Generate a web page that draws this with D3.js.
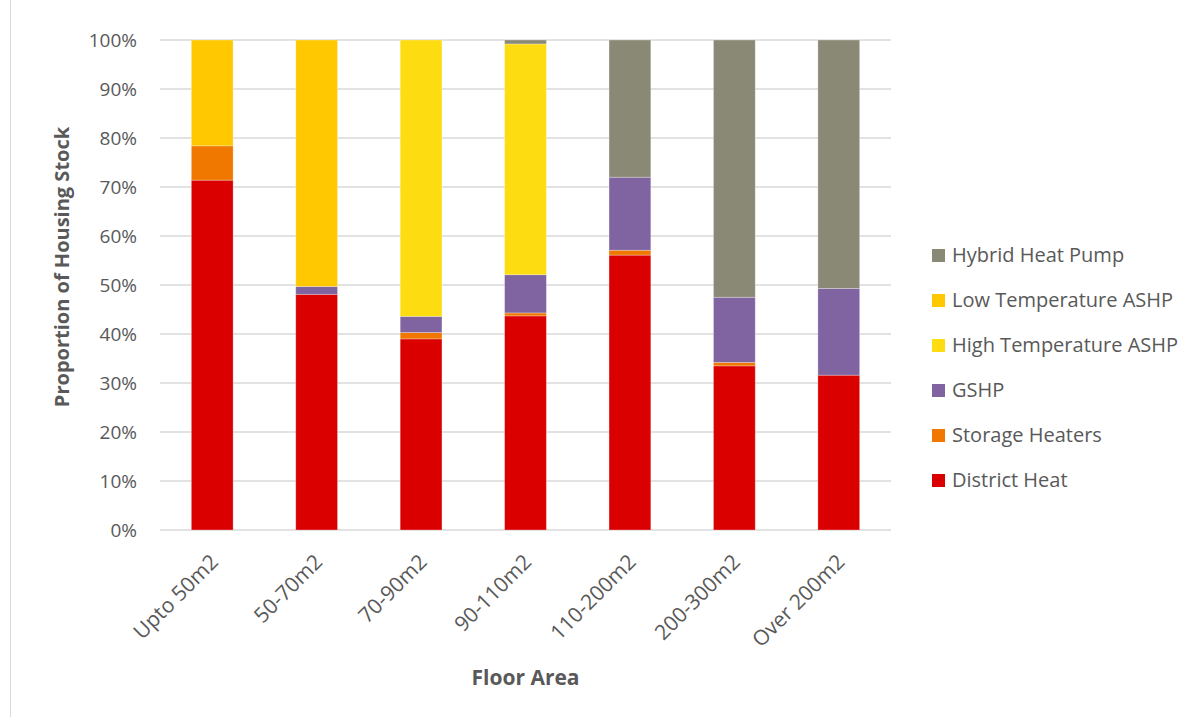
<!DOCTYPE html>
<html>
<head>
<meta charset="utf-8">
<script src="https://cdn.jsdelivr.net/npm/d3@7"></script>
<style>
  html, body { margin: 0; padding: 0; background: #fff; }
  svg { display: block; font-family: "Open Sans", "Liberation Sans", sans-serif; }
</style>
</head>
<body>
<svg id="chart" width="1200" height="717"></svg>
<script>
// ---- Data ----
const categories = ["Upto 50m2", "50-70m2", "70-90m2", "90-110m2", "110-200m2", "200-300m2", "Over 200m2"];
const seriesNames = ["District Heat", "Storage Heaters", "GSHP", "High Temperature ASHP", "Low Temperature ASHP", "Hybrid Heat Pump"];
const seriesColors = ["#DA0000", "#F07800", "#8064A2", "#FEDC12", "#FFC800", "#8A8975"];
const districtHeat = [71.4, 48.1, 39.0, 43.7, 56.1, 33.5, 31.6];
const storageHeaters = [7.0, 0.0, 1.3, 0.6, 1.0, 0.7, 0.0];
const gshp = [0.0, 1.6, 3.3, 7.8, 14.9, 13.3, 17.7];
const highTempASHP = [0.0, 0.0, 56.4, 47.1, 0.0, 0.0, 0.0];
const lowTempASHP = [21.6, 50.3, 0.0, 0.0, 0.0, 0.0, 0.0];
const hybridHeatPump = [0.0, 0.0, 0.0, 0.8, 28.0, 52.5, 50.7];
const yTicks = [0, 10, 20, 30, 40, 50, 60, 70, 80, 90, 100];

const seriesValues = [districtHeat, storageHeaters, gshp, highTempASHP, lowTempASHP, hybridHeatPump];
const rows = categories.map((c, i) => {
  const r = { category: c };
  seriesNames.forEach((s, k) => { r[s] = seriesValues[k][i]; });
  return r;
});

// ---- Layout ----
const svg = d3.select("#chart");
const margin = { left: 160, right: 309, top: 40, bottom: 187 };
const W = 1200, H = 717;
const x0 = margin.left, x1 = W - margin.right;
const y0 = H - margin.bottom, y1 = margin.top;
const FONT = "'Open Sans', 'Liberation Sans', sans-serif";

const x = d3.scaleBand().domain(categories).range([x0, x1]).paddingInner(0.6).paddingOuter(0.3);
const y = d3.scaleLinear().domain([0, 100]).range([y0, y1]);
const color = d3.scaleOrdinal().domain(seriesNames).range(seriesColors);

// outer chart frame (left edge visible)
svg.append("line").attr("x1", 10.5).attr("x2", 10.5).attr("y1", 0).attr("y2", H)
  .attr("stroke", "#d9d9d9").attr("stroke-width", 1);

// gridlines
svg.append("g").selectAll("line").data(yTicks).join("line")
  .attr("x1", x0).attr("x2", x1)
  .attr("y1", d => y(d)).attr("y2", d => y(d))
  .attr("stroke", "#d9d9d9").attr("stroke-width", 1.5);

// y axis labels
const yAxis = d3.axisLeft(y).tickValues(yTicks).tickFormat(d => d + "%").tickSize(0).tickPadding(0);
const yg = svg.append("g").attr("transform", `translate(${x0 - 23},0)`).call(yAxis);
yg.attr("font-family", FONT);
yg.select(".domain").remove();
yg.selectAll("text").attr("font-size", 19).attr("fill", "#595959");

// stacked bars
const stack = d3.stack().keys(seriesNames);
const stacked = stack(rows);
svg.append("g").selectAll("g").data(stacked).join("g")
  .attr("fill", d => color(d.key))
  .selectAll("rect").data(d => d.filter(p => p[1] - p[0] > 0)).join("rect")
  .attr("x", d => x(d.data.category))
  .attr("width", x.bandwidth())
  .attr("y", d => y(d[1]))
  .attr("height", d => y(d[0]) - y(d[1]))
  .attr("stroke", "#ffffff").attr("stroke-opacity", 0.35).attr("stroke-width", 0.8);

// x axis labels
const xAxis = d3.axisBottom(x).tickSize(0).tickPadding(0);
const xg = svg.append("g").attr("transform", `translate(0,${y0})`).call(xAxis);
xg.attr("font-family", FONT);
xg.select(".domain").remove();
xg.selectAll("text")
  .attr("font-size", 21).attr("fill", "#595959")
  .attr("text-anchor", "end")
  .attr("dy", "0.35em")
  .attr("transform", "translate(2,28) rotate(-45)");

// axis titles
svg.append("text")
  .attr("transform", `translate(69,${(y0 + y1) / 2 - 18}) rotate(-90)`)
  .attr("text-anchor", "middle")
  .attr("font-size", 20).attr("font-weight", "bold").attr("fill", "#595959")
  .text("Proportion of Housing Stock");
svg.append("text")
  .attr("x", (x0 + x1) / 2).attr("y", 685)
  .attr("text-anchor", "middle")
  .attr("font-size", 21).attr("font-weight", "bold").attr("fill", "#595959")
  .text("Floor Area");

// legend (reverse order, top = Hybrid)
const legendItems = seriesNames.slice().reverse();
const lg = svg.append("g").attr("transform", "translate(932,255)");
const li = lg.selectAll("g").data(legendItems).join("g")
  .attr("transform", (d, i) => `translate(0,${i * 45})`);
li.append("rect").attr("x", 0).attr("y", -6).attr("width", 13).attr("height", 13)
  .attr("fill", d => color(d));
li.append("text").attr("x", 20).attr("y", 0).attr("dy", "0.35em")
  .attr("font-size", 20).attr("fill", "#595959").text(d => d);
</script>
</body>
</html>
